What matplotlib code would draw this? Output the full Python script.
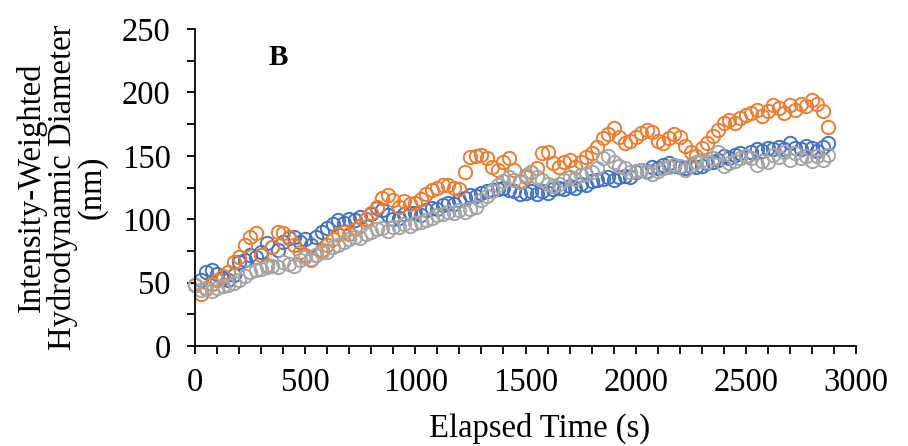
import matplotlib
matplotlib.use("Agg")
import matplotlib.pyplot as plt
from matplotlib.ticker import MultipleLocator

plt.rcParams['font.family'] = ['Liberation Serif', 'DejaVu Serif']

time_s = [
    0, 25, 50, 75, 100, 125, 150, 175,
    200, 225, 250, 275, 300, 325, 350, 375,
    400, 425, 450, 475, 500, 525, 550, 575,
    600, 625, 650, 675, 700, 725, 750, 775,
    800, 825, 850, 875, 900, 925, 950, 975,
    1000, 1025, 1050, 1075, 1100, 1125, 1150, 1175,
    1200, 1225, 1250, 1275, 1300, 1325, 1350, 1375,
    1400, 1425, 1450, 1475, 1500, 1525, 1550, 1575,
    1600, 1625, 1650, 1675, 1700, 1725, 1750, 1775,
    1800, 1825, 1850, 1875, 1900, 1925, 1950, 1975,
    2000, 2025, 2050, 2075, 2100, 2125, 2150, 2175,
    2200, 2225, 2250, 2275, 2300, 2325, 2350, 2375,
    2400, 2425, 2450, 2475, 2500, 2525, 2550, 2575,
    2600, 2625, 2650, 2675, 2700, 2725, 2750, 2775,
    2800, 2825, 2850, 2875,
]

blue = [
    48, 52, 58, 60, 57, 54, 52, 56,
    66, 68, 72, 70, 74, 81, 78, 76,
    82, 85, 86, 82, 84, 80, 86, 90,
    93, 96, 99, 97, 100, 99, 102, 100,
    104, 109, 107, 103, 100, 101, 104, 105,
    105, 103, 107, 109, 108, 111, 113, 112,
    115, 117, 119, 118, 121, 122, 123, 124,
    125, 123, 122, 120, 121, 122, 120, 122,
    121, 124, 125, 124, 126, 125, 128, 127,
    130, 131, 132, 133, 131, 133, 134, 133,
    137, 139, 138, 141, 140, 143, 144, 142,
    141, 140, 142, 141, 142, 144, 145, 147,
    150, 148, 151, 152, 150, 153, 155, 154,
    156, 155, 157, 155, 160, 156, 155, 158,
    156, 154, 157, 160,
]

orange = [
    48, 41, 46, 49, 52, 55, 58, 66,
    70, 80, 86, 89, 72, 64, 78, 90,
    89, 86, 80, 74, 72, 68, 72, 76,
    80, 84, 88, 90, 88, 92, 95, 100,
    105, 110, 117, 119, 115, 110, 114, 112,
    113, 116, 120, 123, 125, 127, 127, 125,
    124, 137, 149, 150, 151, 148, 141, 139,
    145, 148, 139, 130, 133, 137, 140, 152,
    153, 144, 141, 145, 147, 141, 145, 149,
    152, 157, 164, 167, 172, 165, 160, 162,
    165, 168, 170, 169, 162, 160, 164, 167,
    165, 158, 153, 150, 156, 160, 166, 170,
    176, 178, 176, 180, 182, 184, 186, 181,
    185, 190, 188, 184, 190, 186, 191, 189,
    194, 191, 185, 173,
]

gray = [
    48, 44, 45, 43, 46, 47, 48, 50,
    52, 55, 58, 60, 61, 62, 63, 62,
    66, 65, 63, 68, 70, 69, 72, 74,
    74, 78, 80, 82, 84, 86, 85, 88,
    90, 92, 93, 91, 94, 94, 96, 95,
    97, 98, 99, 101, 103, 104, 106, 105,
    107, 106, 108, 110, 115, 118, 122, 127,
    130, 133, 131, 129, 135, 137, 133, 131,
    128, 126, 128, 131, 133, 132, 135, 136,
    137, 140, 148, 150, 145, 142, 140, 137,
    138, 139, 137, 136, 138, 140, 141, 143,
    142, 139, 143, 145, 147, 145, 148, 153,
    142, 144, 146, 148, 150, 148, 143, 146,
    145, 151, 149, 153, 147, 152, 148, 150,
    146, 150, 147, 151,
]

W, H = 908, 446
fig = plt.figure(figsize=(W / 100, H / 100), dpi=100)
ax = fig.add_axes([195 / W, 1 - 346 / H, (856 - 195) / W, (346 - 29) / H])

for series, color in [(blue, '#4472C4'), (orange, '#ED7D31'), (gray, '#A5A5A5')]:
    ax.plot(time_s, series, linestyle='none', marker='o', markersize=9.6,
            markerfacecolor='none', markeredgecolor=color, markeredgewidth=1.4,
            clip_on=False)

ax.set_xlim(0, 3000)
ax.set_ylim(0, 250)
ax.xaxis.set_major_locator(MultipleLocator(500))
ax.xaxis.set_minor_locator(MultipleLocator(100))
ax.yaxis.set_major_locator(MultipleLocator(50))
ax.yaxis.set_minor_locator(MultipleLocator(25))

for s in ['top', 'right']:
    ax.spines[s].set_visible(False)
for s in ['left', 'bottom']:
    ax.spines[s].set_linewidth(1.3)
    ax.spines[s].set_color('black')

FS = 23.5
ax.tick_params(axis='both', which='both', direction='out', width=1.3, color='black')
ax.tick_params(axis='both', which='major', length=5.5, labelsize=FS)
ax.tick_params(axis='both', which='minor', length=5.5)
ax.tick_params(axis='y', which='major', pad=12)
ax.tick_params(axis='x', which='major', pad=10)

fig.text(540 / W, 1 - 428 / H, 'Elapsed Time (s)', ha='center', va='center', fontsize=FS)
fig.text(62 / W, 1 - 187 / H, 'Intensity-Weighted\nHydrodynamic Diameter\n(nm)',
         ha='center', va='center', rotation=90, fontsize=FS, linespacing=0.98)
fig.text(278 / W, 1 - 58 / H, 'B', ha='center', va='center', fontsize=21, fontweight='bold')

fig.savefig('out.png', dpi=100)
